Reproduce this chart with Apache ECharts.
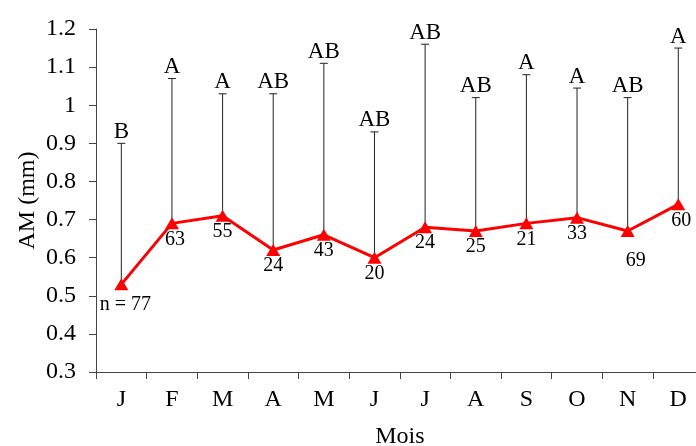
<!DOCTYPE html>
<html>
<head>
<meta charset="utf-8">
<script src="https://cdn.jsdelivr.net/npm/echarts@6/dist/echarts.min.js"></script>
<style>
html,body{margin:0;padding:0;background:#fff;}
#chart{width:696px;height:446px;}
</style>
</head>
<body>
<div id="chart"></div>
<script>
// ---- data ----
var months = ['J','F','M','A','M','J','J','A','S','O','N','D'];
var meanAM = [0.53, 0.69, 0.71, 0.62, 0.66, 0.60, 0.68, 0.67, 0.69, 0.705, 0.67, 0.74];
var upperAM = [0.90, 1.07, 1.03, 1.03, 1.11, 0.93, 1.16, 1.02, 1.08, 1.045, 1.02, 1.15];
var letters = ['B','A','A','AB','AB','AB','AB','AB','A','A','AB','A'];
var nLabels = ['n = 77','63','55','24','43','20','24','25','21','33','69','60'];
var yTicks = [0.3, 0.4, 0.5, 0.6, 0.7, 0.8, 0.9, 1.0, 1.1, 1.2];

// ---- layout (label placement tweaks) ----
var labelTweaks = {0:{offset:[4,0],distance:4}, 1:{offset:[3,0]}, 10:{offset:[8,0],distance:14}, 11:{offset:[3,0]}};
var FONT = '"Liberation Serif", "Times New Roman", serif';

var chart = echarts.init(document.getElementById('chart'), null, {renderer:'canvas'});

var lineData = meanAM.map(function(v, i){
  var t = labelTweaks[i] || {};
  return {
    value: v,
    label: {
      show: true,
      position: 'bottom',
      distance: t.distance !== undefined ? t.distance : 0,
      offset: t.offset || [0,0],
      formatter: nLabels[i]
    }
  };
});

var errData = meanAM.map(function(v, i){ return [i, v, upperAM[i]]; });

var option = {
  backgroundColor: '#fff',
  animation: false,
  grid: {left: 96, top: 29, width: 607.6, height: 343, outerBoundsMode: 'none', containLabel: false},
  xAxis: {
    type: 'category',
    data: months,
    boundaryGap: true,
    axisLine: {show: true, lineStyle: {color: '#444', width: 1}},
    axisTick: {show: true, inside: false, length: 7, alignWithLabel: false, lineStyle: {color: '#444'}},
    axisLabel: {color: '#000', fontFamily: FONT, fontSize: 24, margin: 16},
    splitLine: {show: false},
    name: 'Mois',
    nameLocation: 'middle',
    nameGap: 53,
    nameMoveOverlap: false,
    nameTextStyle: {color: '#000', fontFamily: FONT, fontSize: 24}
  },
  yAxis: {
    type: 'value',
    min: yTicks[0],
    max: yTicks[yTicks.length - 1],
    interval: 0.1,
    axisLine: {show: true, lineStyle: {color: '#444', width: 1}},
    axisTick: {show: true, inside: false, length: 7, lineStyle: {color: '#444'}},
    axisLabel: {color: '#000', fontFamily: FONT, fontSize: 24, margin: 20,
      formatter: function(v){ return String(Math.round(v*10)/10); }},
    splitLine: {show: false},
    name: 'AM (mm)',
    nameLocation: 'middle',
    nameRotate: 90,
    nameGap: 56,
    nameMoveOverlap: false,
    nameTextStyle: {color: '#000', fontFamily: FONT, fontSize: 24}
  },
  series: [
    {
      type: 'custom',
      z: 1,
      data: errData,
      renderItem: function(params, api){
        var p = api.coord([api.value(0), api.value(1)]);
        var t = api.coord([api.value(0), api.value(2)]);
        var capW = 4;
        return {
          type: 'group',
          children: [
            {type: 'line', shape: {x1: p[0], y1: p[1], x2: t[0], y2: t[1]}, style: {stroke: '#222', lineWidth: 1}},
            {type: 'line', shape: {x1: t[0]-capW, y1: t[1], x2: t[0]+capW, y2: t[1]}, style: {stroke: '#222', lineWidth: 1}},
            {type: 'text', style: {text: letters[params.dataIndex], x: t[0], y: t[1],
              align: 'center', verticalAlign: 'bottom', fontFamily: FONT, fontSize: 23, fill: '#000'}}
          ]
        };
      }
    },
    {
      type: 'line',
      z: 3,
      data: lineData,
      symbol: 'triangle',
      symbolSize: [14, 12],
      showAllSymbol: true,
      lineStyle: {color: '#ff0000', width: 3},
      itemStyle: {color: '#ff0000'},
      label: {color: '#000', fontFamily: FONT, fontSize: 20}
    }
  ]
};
chart.setOption(option);
</script>
</body>
</html>
